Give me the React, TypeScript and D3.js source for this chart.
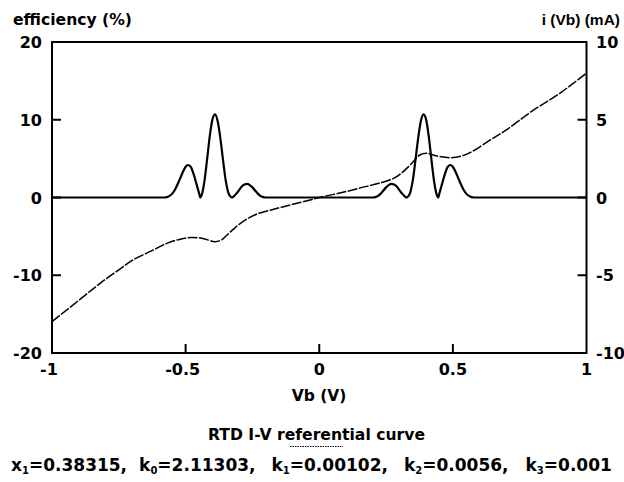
import React from "react";
import * as d3 from "d3";

// ---- data ----
const vbEff = [
  -1, -0.58, -0.57, -0.56, -0.55, -0.54, -0.53, -0.52, -0.51, -0.5, -0.49, -0.48, -0.47, -0.46, -0.45, -0.445,
  -0.44, -0.43, -0.42, -0.41, -0.4, -0.39, -0.38, -0.37, -0.36, -0.35, -0.34, -0.33, -0.325,
  -0.32, -0.31, -0.3, -0.29, -0.28, -0.27, -0.26, -0.25, -0.24, -0.23, -0.22, -0.21, -0.2,
  0.2, 0.21, 0.22, 0.23, 0.24, 0.25, 0.26, 0.27, 0.28, 0.29, 0.3, 0.31, 0.32, 0.325,
  0.33, 0.34, 0.35, 0.36, 0.37, 0.38, 0.39, 0.4, 0.41, 0.42, 0.43, 0.44, 0.445,
  0.45, 0.46, 0.47, 0.48, 0.49, 0.5, 0.51, 0.52, 0.53, 0.54, 0.55, 0.56, 0.57, 0.58, 1,
];
const efficiency = [
  0, 0, 0.05, 0.2, 0.5, 1.0, 1.7, 2.5, 3.3, 3.95, 4.18, 3.9, 3.0, 1.8, 0.6, 0,
  0.3, 2.0, 4.8, 7.8, 10.0, 10.7, 9.8, 7.6, 4.8, 2.2, 0.6, 0.05, 0,
  0.15, 0.5, 0.95, 1.4, 1.68, 1.74, 1.6, 1.3, 0.9, 0.5, 0.2, 0.05, 0,
  0, 0.05, 0.2, 0.5, 0.9, 1.3, 1.6, 1.74, 1.68, 1.4, 0.95, 0.5, 0.15, 0,
  0.05, 0.6, 2.2, 4.8, 7.6, 9.8, 10.7, 10.0, 7.8, 4.8, 2.0, 0.3, 0,
  0.6, 1.8, 3.0, 3.9, 4.18, 3.95, 3.3, 2.5, 1.7, 1.0, 0.5, 0.2, 0.05, 0, 0,
];

const vbCur = [
  -1, -0.9, -0.82, -0.75, -0.7, -0.63, -0.57, -0.52, -0.48, -0.44, -0.39, -0.365, -0.345, -0.32, -0.295,
  -0.265, -0.233, -0.18, -0.134, -0.08, -0.03, 0, 0.054, 0.1, 0.154, 0.216, 0.278, 0.31, 0.34, 0.378,
  0.403, 0.44, 0.49, 0.53, 0.566, 0.64, 0.7, 0.8, 0.9, 1,
];
const current = [
  -7.98, -6.62, -5.52, -4.65, -4.05, -3.45, -2.95, -2.68, -2.57, -2.62, -2.84, -2.72, -2.41, -2.02, -1.66,
  -1.33, -1.06, -0.8, -0.59, -0.36, -0.14, 0, 0.2, 0.38, 0.62, 0.88, 1.23, 1.6, 2.09, 2.75,
  2.84, 2.67, 2.56, 2.65, 2.9, 3.7, 4.35, 5.6, 6.7, 8.0,
];

const xTicks = [-1, -0.5, 0, 0.5, 1];
const xTickLabels = ["-1", "-0.5", "0", "0.5", "1"];
const yLeftTicks = [-20, -10, 0, 10, 20];
const yRightTicks = [-10, -5, 0, 5, 10];

const leftTitle = "efficiency (%)";
const rightTitle = "i (Vb) (mA)";
const xTitle = "Vb (V)";
const captionTitle = ["RTD I-V ", "referential", " curve"];
const params = [
  { sym: "x", sub: "1", val: "0.38315," },
  { sym: "k", sub: "0", val: "2.11303," },
  { sym: "k", sub: "1", val: "0.00102," },
  { sym: "k", sub: "2", val: "0.0056," },
  { sym: "k", sub: "3", val: "0.001" },
];

const W = 624;
const H = 482;
const L = 52;
const R = 586.5;
const T = 42;
const B = 353;

const FONT = "'DejaVu Sans', sans-serif";
const FONT2 = "'Liberation Sans', Arial, sans-serif";

export default function App() {
  const x = d3.scaleLinear().domain([-1, 1]).range([L, R]);
  const yL = d3.scaleLinear().domain([-20, 20]).range([B, T]);
  const yR = d3.scaleLinear().domain([-10, 10]).range([B, T]);

  const effLine = d3
    .line<number>()
    .x((_, i) => x(vbEff[i]))
    .y((d) => yL(d))
    .curve(d3.curveMonotoneX);
  const curLine = d3
    .line<number>()
    .x((_, i) => x(vbCur[i]))
    .y((d) => yR(d))
    .curve(d3.curveCatmullRom.alpha(0.5));

  const gaps = [0, 12, 16, 16, 17];

  return (
    <svg
      width={W}
      height={H}
      style={{ position: "absolute", left: 0, top: 0, background: "#fff" }}
    >
      <rect x={0} y={0} width={W} height={H} fill="#fff" />
      {/* frame */}
      <rect x={L} y={T} width={R - L} height={B - T} fill="none" stroke="#000" strokeWidth={2} />
      {/* inner ticks */}
      {yLeftTicks.filter((t) => t !== 20 && t !== -20).map((t) => (
        <line key={"lt" + t} x1={L} x2={L + 9} y1={yL(t)} y2={yL(t)} stroke="#000" strokeWidth={2} />
      ))}
      {yRightTicks.filter((t) => t !== 10 && t !== -10).map((t) => (
        <line key={"rt" + t} x1={R} x2={R - 9} y1={yR(t)} y2={yR(t)} stroke="#000" strokeWidth={2} />
      ))}
      {xTicks.filter((t) => t !== -1 && t !== 1).map((t) => (
        <line key={"bt" + t} x1={x(t)} x2={x(t)} y1={B} y2={B - 9} stroke="#000" strokeWidth={2} />
      ))}

      {/* current curve */}
      <path
        d={curLine(current) || ""}
        fill="none"
        stroke="#000"
        strokeWidth={1.5}
        strokeDasharray="10 1.5"
      />
      {/* efficiency curve */}
      <path d={effLine(efficiency) || ""} fill="none" stroke="#000" strokeWidth={2.2} strokeLinejoin="round" />

      {/* tick labels */}
      <g fontFamily={FONT} fontWeight="bold" fontSize={16} fill="#000">
        {yLeftTicks.map((t) => (
          <text key={"ll" + t} x={42} y={yL(t) + 6} textAnchor="end">
            {String(t)}
          </text>
        ))}
        {yRightTicks.map((t) => (
          <text key={"rl" + t} x={596} y={yR(t) + 6} textAnchor="start">
            {String(t)}
          </text>
        ))}
        {xTicks.map((t, i) => (
          <text key={"xl" + t} x={x(t) + (t < 0 ? -3 : 0)} y={375} textAnchor="middle">
            {xTickLabels[i]}
          </text>
        ))}
      </g>

      {/* titles */}
      <g fontFamily={FONT} fontWeight="bold" fill="#000">
        <text x={13} y={25} fontSize={15} textLength={119} lengthAdjust="spacingAndGlyphs">
          {leftTitle}
        </text>
        <text x={319} y={401} fontSize={15.5} textAnchor="middle">
          {xTitle}
        </text>
        <text x={208} y={440} fontSize={15.5} textLength={217} lengthAdjust="spacingAndGlyphs">
          {captionTitle.join("")}
        </text>
      </g>
      <text x={620} y={25} fontSize={15.5} fontFamily={FONT2} fontWeight="bold" textAnchor="end" fill="#000">
        {rightTitle}
      </text>
      <line x1={290} x2={343} y1={446.5} y2={446.5} stroke="#000" strokeWidth={1} strokeDasharray="1.5 1" />

      {/* parameters */}
      <text x={11} y={471} fontFamily={FONT} fontWeight="bold" fill="#000" fontSize={17}>
        {params.map((p, i) => (
          <React.Fragment key={"p" + i}>
            <tspan dx={gaps[i]}>{p.sym}</tspan>
            <tspan fontSize={10} dy={3}>{p.sub}</tspan>
            <tspan dy={-3}>{"="}</tspan>
            <tspan>{p.val}</tspan>
          </React.Fragment>
        ))}
      </text>
    </svg>
  );
}
